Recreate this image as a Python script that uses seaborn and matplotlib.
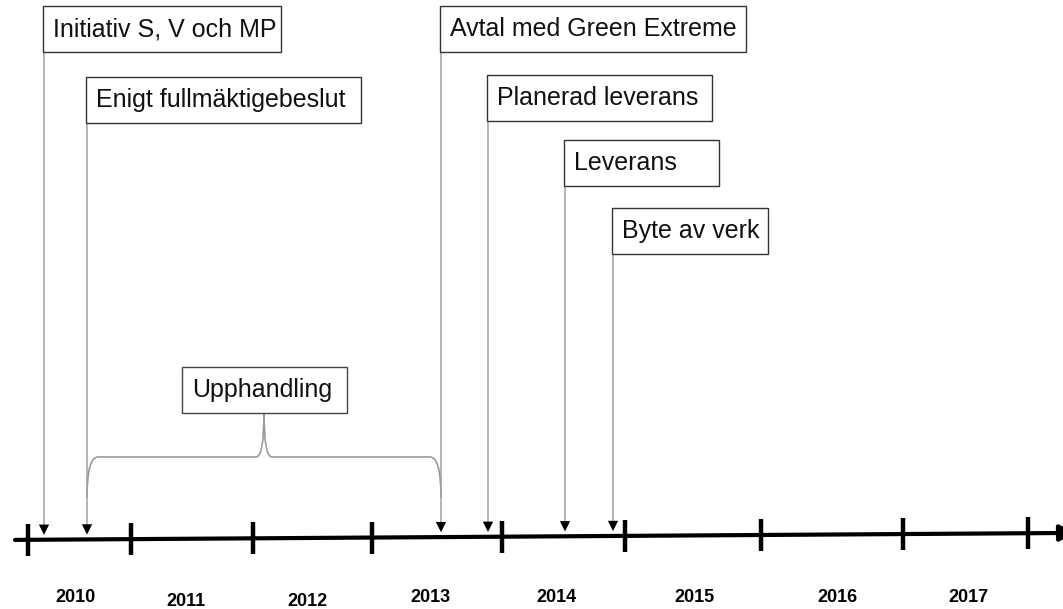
import numpy as np
import pandas as pd
import matplotlib.pyplot as plt
from matplotlib.patches import Rectangle, PathPatch
from matplotlib.path import Path
import seaborn as sns

sns.set_theme(style="white")
plt.rcParams['font.family'] = ['Liberation Sans', 'DejaVu Sans']

# händelser längs tidslinjen (läge i bildens x-led)
events = ["Initiativ S, V och MP", "Enigt fullmäktigebeslut", "Avtal med Green Extreme",
          "Planerad leverans", "Leverans", "Byte av verk"]
event_pos = [44, 87, 441, 488, 565, 613]

# årsetiketter och årsgränser
years = ["2010", "2011", "2012", "2013", "2014", "2015", "2016", "2017"]
year_pos = [75, 186, 307, 430, 556, 694, 837, 968]
year_ticks = [28, 131, 253, 372, 502, 625, 761, 903, 1028]

# period med klammer
period_label = "Upphandling"
period_start, period_end = 87, 441

# layout
W, H = 1063, 609
box_top = [6, 77, 6, 75, 140, 208]
box_w = [238, 275, 306, 225, 155, 156]
box_h = 46
year_y = [597, 601, 601, 597, 597, 597, 597, 597]


def base_y(x):
    # tidslinjen lutar en aning uppåt åt höger
    return 540 - 7 * np.asarray(x, dtype=float) / W


fig = plt.figure(figsize=(10.63, 6.09), dpi=100)
ax = fig.add_axes([0, 0, 1, 1])
ax.set_xlim(0, W)
ax.set_ylim(H, 0)
ax.axis("off")

# huvudlinje med pil (spetsen hamnar utanför bilden)
ax.annotate("", xy=(1076, base_y(1076)), xytext=(15, base_y(15)),
            arrowprops=dict(arrowstyle="-|>", color="black", lw=3.0,
                            mutation_scale=24, shrinkA=0, shrinkB=0),
            annotation_clip=False)

# årsgränser
ty = base_y(year_ticks)
ax.vlines(year_ticks, ty - 16, ty + 16, color="black", lw=3.2)

for lab, x, y in zip(years, year_pos, year_y):
    ax.text(x, y, lab, ha="center", va="center", fontsize=13,
            fontweight="bold", color="black")

# händelser: grå linje + svart pilspets
ey = base_y(event_pos)
ax.vlines(event_pos, [t + box_h for t in box_top], ey - 10, color="#a0a0a0", lw=1.1)
heads = pd.DataFrame({"x": event_pos, "y": ey - 10})
sns.scatterplot(data=heads, x="x", y="y", marker="v", s=55, color="black",
                edgecolor="none", ax=ax, zorder=4)

for lab, x, top, w in zip(events, event_pos, box_top, box_w):
    ax.add_patch(Rectangle((x - 1, top), w, box_h, facecolor="white",
                           edgecolor="#333333", lw=1.0, zorder=3))
    ax.text(x + 9, top + box_h / 2, lab, ha="left", va="center",
            fontsize=18, color="#111111", zorder=5)

# klammer för upphandlingen
xc = (period_start + period_end) / 2
yb, ybar, ytop = 498, 457, 413
r = 11
verts = [(period_start, yb), (period_start, ybar), (period_start + r, ybar),
         (xc - 8, ybar), (xc, ybar), (xc, ytop),
         (xc, ybar), (xc + 8, ybar),
         (period_end - r, ybar), (period_end, ybar), (period_end, yb)]
codes = [Path.MOVETO, Path.CURVE3, Path.CURVE3,
         Path.LINETO, Path.CURVE3, Path.CURVE3,
         Path.CURVE3, Path.CURVE3,
         Path.LINETO, Path.CURVE3, Path.CURVE3]
ax.add_patch(PathPatch(Path(verts, codes), facecolor="none", edgecolor="#999999", lw=1.2))

pw = 165
ax.add_patch(Rectangle((xc - pw / 2, ytop - box_h), pw, box_h, facecolor="white",
                       edgecolor="#444444", lw=1.0, zorder=3))
ax.text(xc - pw / 2 + 11, ytop - box_h / 2, period_label, ha="left", va="center",
        fontsize=18, color="#111111", zorder=5)

fig.savefig("out.png", dpi=100)
